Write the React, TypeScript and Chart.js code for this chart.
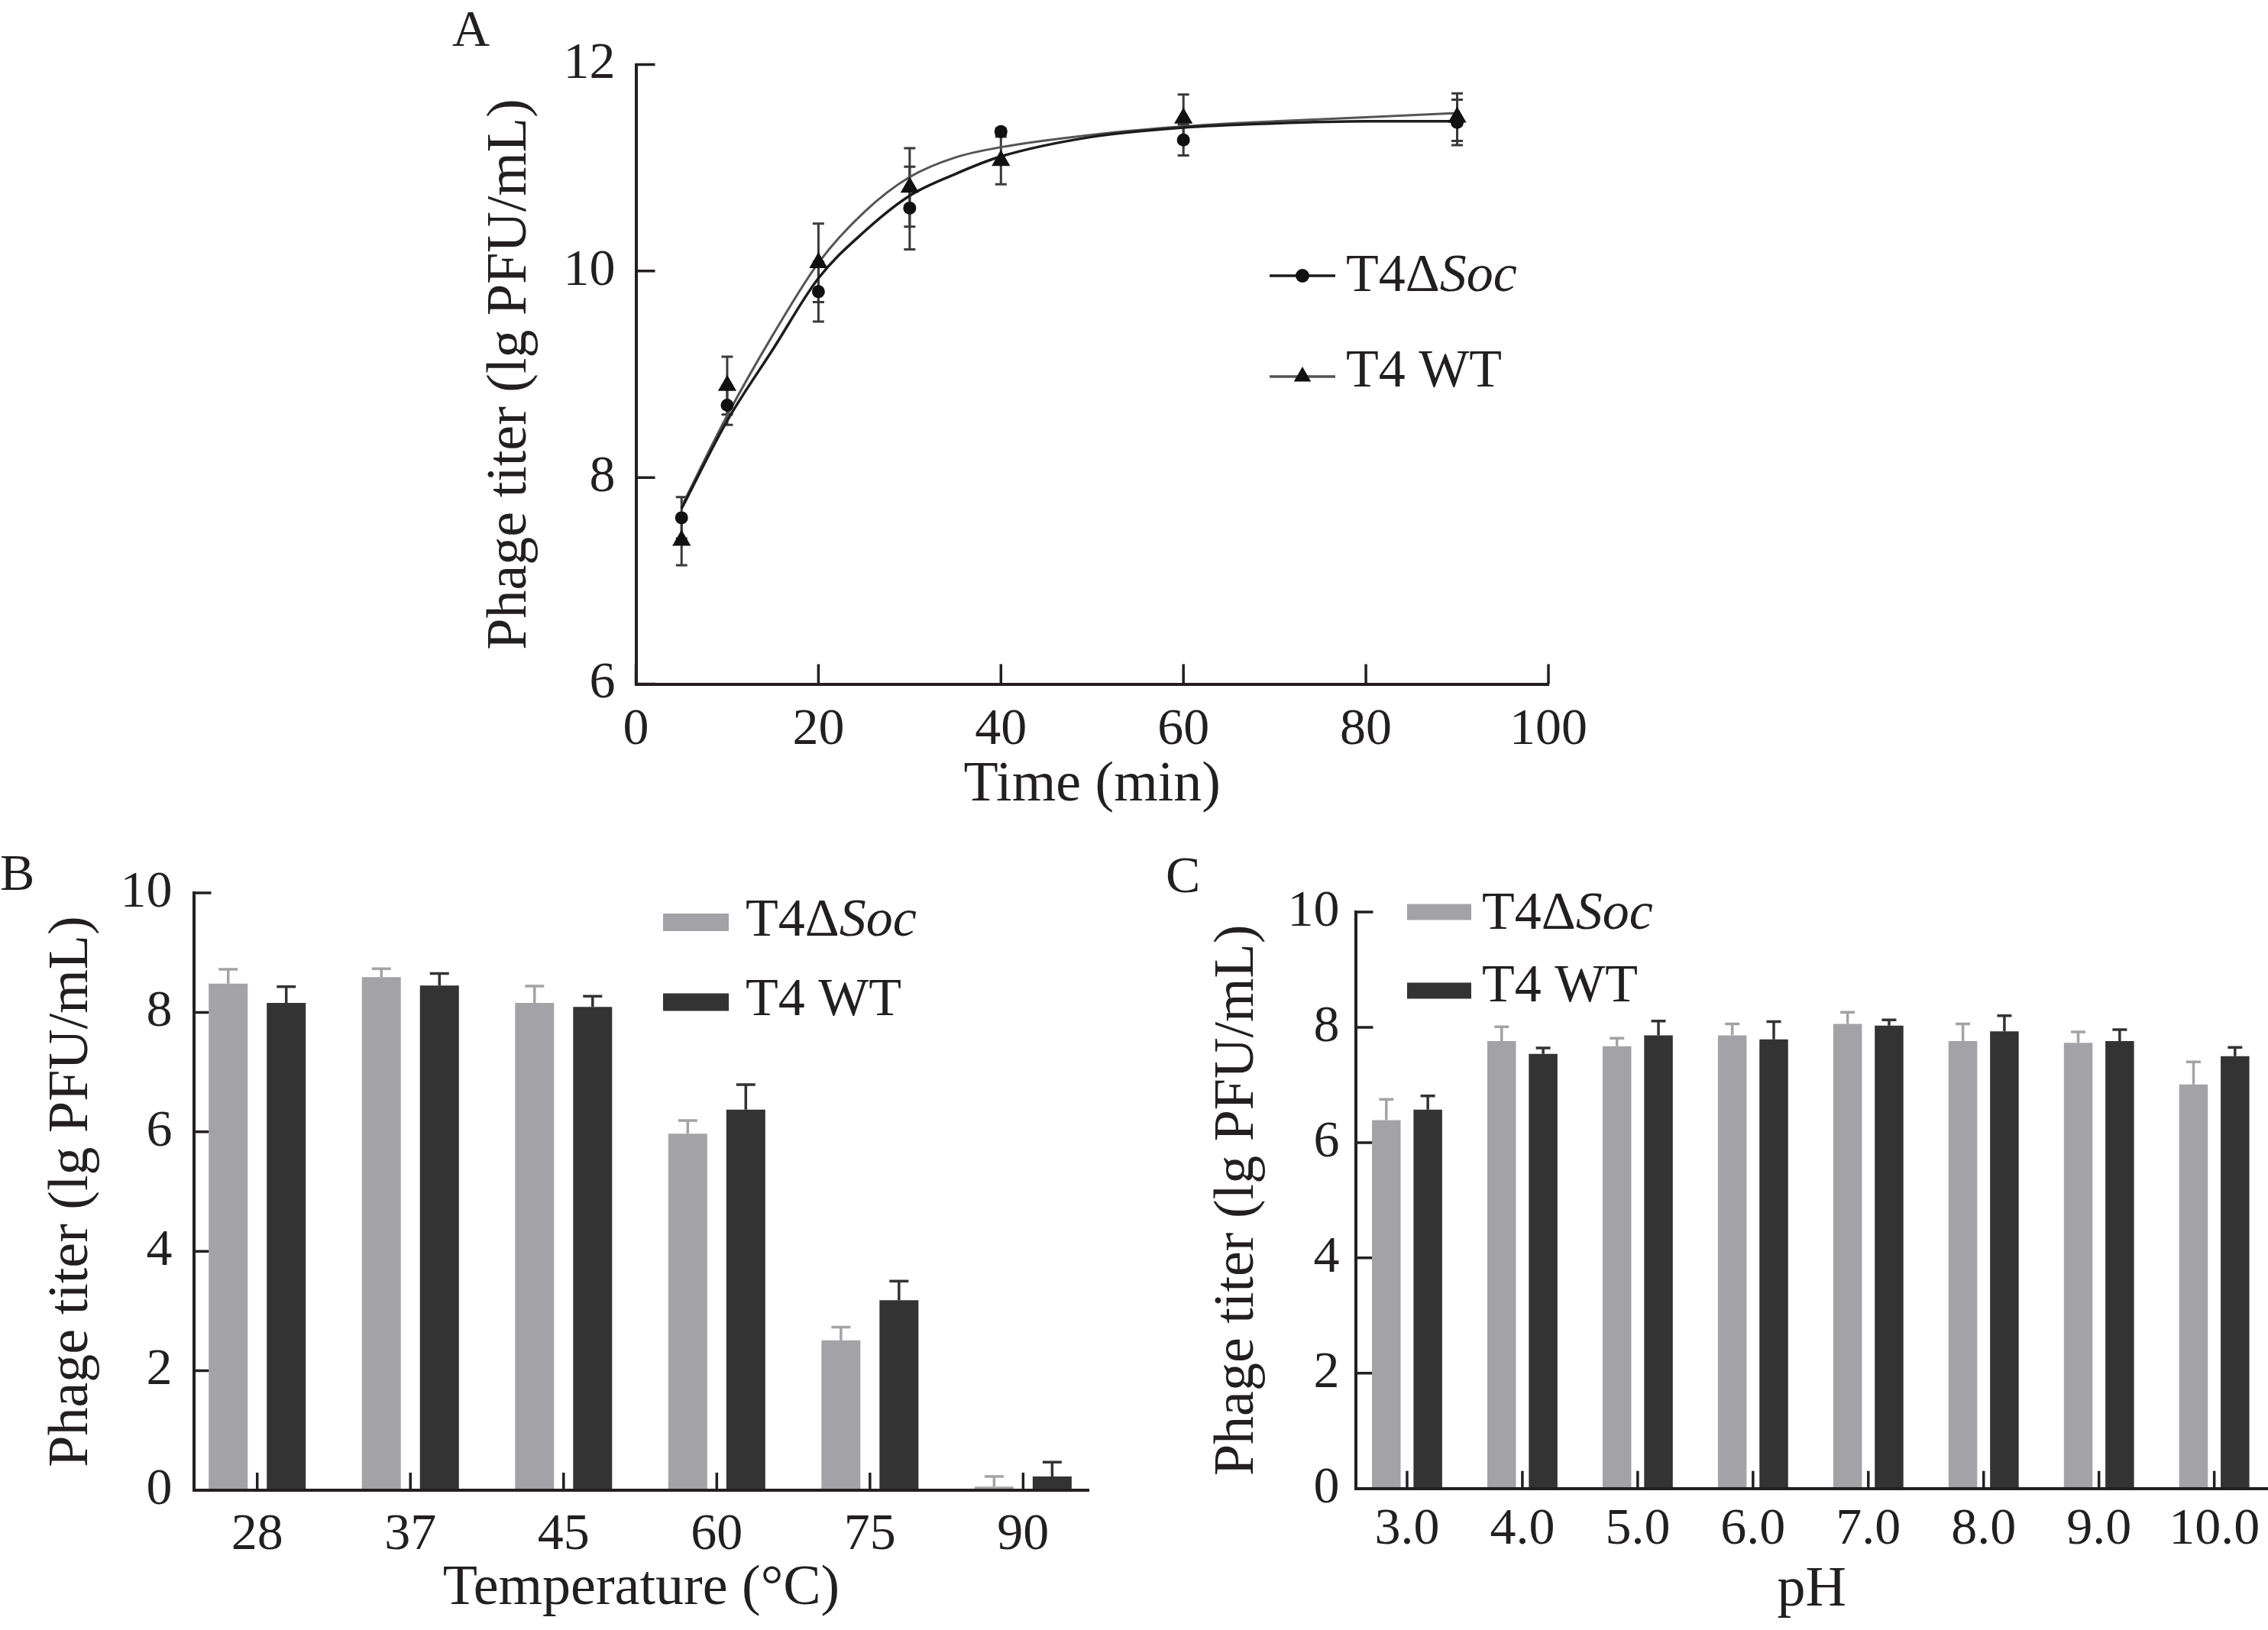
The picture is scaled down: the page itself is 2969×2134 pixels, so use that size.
import { useEffect, useRef } from "react"
import { Chart, registerables } from "chart.js"

Chart.register(...registerables)

const SERIF = "'Liberation Serif', 'Times New Roman', serif"
const INK = "#231f20"
const LIGHT_BAR = "#a3a3a7"
const DARK_BAR = "#333333"

Chart.defaults.font.family = SERIF
Chart.defaults.color = INK

const yTitle = "Phage titer (lg PFU/mL)"
// second part is set in italics
const socName = ["T4Δ", "Soc"]
const wtName = ["T4 WT", ""]

// A: titer over time, measured points and the fitted curves
const timeMin = [5, 10, 20, 30, 40, 60, 90]
const socTiter = [7.61, 8.7, 9.8, 10.61, 11.35, 11.27, 11.44]
const socSd = [0.2, 0.19, 0.29, 0.4, 0.03, 0.15, 0.22]
const wtTiter = [7.39, 8.89, 10.08, 10.81, 11.07, 11.48, 11.49]
const wtSd = [0.24, 0.28, 0.38, 0.38, 0.23, 0.23, 0.23]

const fitTime = [5, 10, 15, 20, 25, 30, 35, 40, 50, 60, 70, 80, 90]
const socFit = [7.7, 8.55, 9.24, 9.93, 10.38, 10.73, 10.94, 11.11, 11.3, 11.39, 11.43, 11.45, 11.45]
const wtFit = [7.72, 8.6, 9.38, 10.08, 10.57, 10.91, 11.1, 11.2, 11.32, 11.4, 11.45, 11.49, 11.53]

// B: temperature
const tempLabels = ["28", "37", "45", "60", "75", "90"]
const tempSoc = [8.48, 8.59, 8.16, 5.97, 2.51, 0.06]
const tempSocSd = [0.24, 0.14, 0.28, 0.22, 0.22, 0.17]
const tempWt = [8.16, 8.45, 8.09, 6.37, 3.18, 0.23]
const tempWtSd = [0.27, 0.2, 0.18, 0.42, 0.32, 0.24]

// C: pH
const phLabels = ["3.0", "4.0", "5.0", "6.0", "7.0", "8.0", "9.0", "10.0"]
const phSoc = [6.39, 7.76, 7.67, 7.86, 8.06, 7.76, 7.73, 7.01]
const phSocSd = [0.36, 0.25, 0.14, 0.2, 0.2, 0.3, 0.19, 0.39]
const phWt = [6.57, 7.54, 7.86, 7.79, 8.03, 7.93, 7.76, 7.5]
const phWtSd = [0.24, 0.1, 0.25, 0.31, 0.1, 0.27, 0.2, 0.15]

function paintErrors(chart: any, opts: any) {
  const { ctx } = chart
  const y = chart.scales.y
  ctx.save()
  ctx.lineWidth = opts.width
  chart.data.datasets.forEach((ds: any, i: number) => {
    if (!ds.errors) return
    const meta = chart.getDatasetMeta(i)
    ctx.strokeStyle = ds.errorColor
    meta.data.forEach((el: any, j: number) => {
      const v = ds.data[j].y
      const e = ds.errors[j]
      const top = y.getPixelForValue(v + e)
      const bottom = opts.both ? y.getPixelForValue(v - e) : el.y
      const half = opts.cap / 2
      ctx.beginPath()
      ctx.moveTo(el.x, bottom)
      ctx.lineTo(el.x, top)
      ctx.moveTo(el.x - half, top)
      ctx.lineTo(el.x + half, top)
      if (opts.both) {
        ctx.moveTo(el.x - half, bottom)
        ctx.lineTo(el.x + half, bottom)
      }
      ctx.stroke()
    })
  })
  ctx.restore()
}

const errorBars = {
  id: "errorBars",
  beforeDatasetsDraw(chart: any, _args: any, opts: any) {
    if (opts.under) paintErrors(chart, opts)
  },
  afterDatasetsDraw(chart: any, _args: any, opts: any) {
    if (!opts.under) paintErrors(chart, opts)
  },
}

// tick marks pointing into the plot
const innerTicks = {
  id: "innerTicks",
  beforeDatasetsDraw(chart: any, _args: any, opts: any) {
    const { ctx, chartArea: a, scales } = chart
    ctx.save()
    ctx.strokeStyle = INK
    ctx.lineWidth = 3.5
    ctx.beginPath()
    scales.x.ticks.forEach((t: any) => {
      const p = scales.x.getPixelForValue(t.value)
      ctx.moveTo(p, a.bottom)
      ctx.lineTo(p, a.bottom - opts.xLen)
    })
    scales.y.ticks.forEach((t: any) => {
      const p = scales.y.getPixelForValue(t.value)
      ctx.moveTo(a.left, p)
      ctx.lineTo(a.left + opts.yLen, p)
    })
    ctx.stroke()
    ctx.restore()
  },
}

const drawnLegend = {
  id: "drawnLegend",
  afterDraw(chart: any, _args: any, opts: any) {
    const { ctx } = chart
    ctx.save()
    opts.items.forEach((it: any) => {
      if (it.kind === "rect") {
        ctx.fillStyle = it.color
        ctx.fillRect(it.x, it.y - it.h / 2, it.w, it.h)
      } else {
        ctx.strokeStyle = it.color
        ctx.lineWidth = 3.5
        ctx.beginPath()
        ctx.moveTo(it.x, it.y)
        ctx.lineTo(it.x + it.w, it.y)
        ctx.stroke()
        ctx.fillStyle = "#111"
        const cx = it.x + it.w / 2
        ctx.beginPath()
        if (it.marker === "circle") {
          ctx.arc(cx, it.y, 9, 0, Math.PI * 2)
        } else {
          const r = 13
          ctx.moveTo(cx, it.y - r)
          ctx.lineTo(cx + r * 0.866, it.y + r / 2)
          ctx.lineTo(cx - r * 0.866, it.y + r / 2)
          ctx.closePath()
        }
        ctx.fill()
      }
      ctx.fillStyle = INK
      ctx.textBaseline = "middle"
      ctx.textAlign = "left"
      ctx.font = `${opts.size}px ${SERIF}`
      ctx.fillText(it.name[0], it.textX, it.textY)
      if (it.name[1]) {
        const w = ctx.measureText(it.name[0]).width
        ctx.font = `italic ${opts.size}px ${SERIF}`
        ctx.fillText(it.name[1], it.textX + w, it.textY)
      }
    })
    ctx.restore()
  },
}

function axis(extra: any) {
  return {
    border: { display: true, color: INK, width: 4, z: 1 },
    grid: { display: false, drawTicks: false },
    ...extra,
  }
}

function growthConfig(): any {
  return {
    type: "scatter",
    data: {
      datasets: [
        {
          data: timeMin.map((x, i) => ({ x, y: socTiter[i] })),
          errors: socSd,
          errorColor: "#3a3a3a",
          pointStyle: "circle",
          pointRadius: 8.5,
          pointBorderWidth: 0,
          backgroundColor: "#111",
          showLine: false,
        },
        {
          data: timeMin.map((x, i) => ({ x, y: wtTiter[i] })),
          errors: wtSd,
          errorColor: "#3a3a3a",
          pointStyle: "triangle",
          pointRadius: 14,
          pointBorderWidth: 0,
          backgroundColor: "#111",
          showLine: false,
        },
        {
          data: fitTime.map((x, i) => ({ x, y: socFit[i] })),
          showLine: true,
          borderColor: "#1c1c1c",
          borderWidth: 3.5,
          pointRadius: 0,
          cubicInterpolationMode: "monotone",
        },
        {
          data: fitTime.map((x, i) => ({ x, y: wtFit[i] })),
          showLine: true,
          borderColor: "#555555",
          borderWidth: 3,
          pointRadius: 0,
          cubicInterpolationMode: "monotone",
        },
      ],
    },
    options: {
      animation: false,
      responsive: false,
      devicePixelRatio: 1,
      events: [],
      layout: { padding: { left: 0, top: 84.5, right: 73, bottom: 0 } },
      plugins: {
        legend: { display: false },
        tooltip: { enabled: false },
        errorBars: { under: true, both: true, cap: 15, width: 3 },
        innerTicks: { xLen: 26, yLen: 25 },
        drawnLegend: {
          size: 70,
          items: [
            { kind: "line", marker: "circle", color: "#1c1c1c", x: 1102, y: 361, w: 86, textX: 1202, textY: 363, name: socName },
            { kind: "line", marker: "triangle", color: "#555555", x: 1102, y: 493, w: 86, textX: 1202, textY: 488, name: wtName },
          ],
        },
      },
      scales: {
        x: axis({
          type: "linear",
          min: 0,
          max: 100,
          ticks: { stepSize: 20, font: { size: 68 }, padding: 20, maxRotation: 0 },
          title: { display: true, text: "Time (min)", font: { size: 74 }, padding: { top: 0, bottom: 27 } },
          afterFit: (s: any) => { s.height = 204.5 },
        }),
        y: axis({
          type: "linear",
          min: 6,
          max: 12,
          ticks: { stepSize: 2, font: { size: 68 }, padding: 27 },
          title: { display: true, text: yTitle, font: { size: 74 }, padding: { top: 64, bottom: 0 } },
          afterFit: (s: any) => { s.width = 272.5 },
        }),
      },
    },
    plugins: [errorBars, innerTicks, drawnLegend],
  }
}

function barConfig(g: any): any {
  return {
    type: "bar",
    data: {
      datasets: [
        {
          data: g.soc.map((y: number, i: number) => ({ x: i, y })),
          errors: g.socSd,
          errorColor: LIGHT_BAR,
          backgroundColor: LIGHT_BAR,
          categoryPercentage: g.cp,
          barPercentage: g.bp,
        },
        {
          data: g.wt.map((y: number, i: number) => ({ x: i, y })),
          errors: g.wtSd,
          errorColor: DARK_BAR,
          backgroundColor: DARK_BAR,
          categoryPercentage: g.cp,
          barPercentage: g.bp,
        },
      ],
    },
    options: {
      animation: false,
      responsive: false,
      devicePixelRatio: 1,
      events: [],
      layout: { padding: { left: 0, top: g.top, right: g.right, bottom: 0 } },
      plugins: {
        legend: { display: false },
        tooltip: { enabled: false },
        errorBars: { under: false, both: false, cap: g.cap, width: 3.5 },
        innerTicks: { xLen: 23, yLen: 23 },
        drawnLegend: {
          size: 70,
          items: [
            { kind: "rect", color: LIGHT_BAR, x: g.legX, y: g.legY[0], w: g.legW, h: g.legH, textX: g.textX, textY: g.textY[0], name: socName },
            { kind: "rect", color: DARK_BAR, x: g.legX, y: g.legY[1], w: g.legW, h: g.legH, textX: g.textX, textY: g.textY[1], name: wtName },
          ],
        },
      },
      scales: {
        x: axis({
          type: "linear",
          offset: false,
          min: g.xMin,
          max: g.xMax,
          afterBuildTicks: (s: any) => {
            s.ticks = g.labels.map((_: string, i: number) => ({ value: i }))
          },
          ticks: {
            font: { size: 68 },
            padding: g.xPad,
            maxRotation: 0,
            autoSkip: false,
            callback: (v: number) => g.labels[Math.round(v)],
          },
          title: { display: true, text: g.xTitle, font: { size: 74 }, padding: { top: 0, bottom: g.xTitlePad } },
          afterFit: (s: any) => { s.height = g.xHeight },
        }),
        y: axis({
          type: "linear",
          min: 0,
          max: 10,
          ticks: { stepSize: 2, font: { size: 68 }, padding: g.yPad },
          title: { display: true, text: yTitle, font: { size: 74 }, padding: { top: g.yTitlePad, bottom: 0 } },
          afterFit: (s: any) => { s.width = g.yWidth },
        }),
      },
    },
    plugins: [errorBars, innerTicks, drawnLegend],
  }
}

function tempConfig() {
  return barConfig({
    labels: tempLabels, soc: tempSoc, socSd: tempSocSd, wt: tempWt, wtSd: tempWtSd,
    cp: 0.758, bp: 0.671, cap: 25,
    top: 69, right: 54.6, xMin: -0.415, xMax: 5.429,
    xHeight: 183, yWidth: 253.5, xPad: 18, yPad: 28, xTitlePad: 9, yTitlePad: 50,
    xTitle: "Temperature (°C)",
    legX: 868, legW: 86, legH: 23, legY: [107.5, 212], textX: 976, textY: [107, 211],
  })
}

function phConfig() {
  return barConfig({
    labels: phLabels, soc: phSoc, socSd: phSocSd, wt: phWt, wtSd: phWtSd,
    cp: 0.72, bp: 0.69, cap: 19,
    top: 94, right: 80, xMin: -0.447, xMax: 7.466,
    xHeight: 185.3, yWidth: 294.5, xPad: 14, yPad: 21, xTitlePad: 7, yTitlePad: 96,
    xTitle: "pH",
    legX: 362, legW: 84, legH: 21, legY: [94, 197], textX: 460, textY: [98, 193],
  })
}

function Panel({ left, top, width, height, build }: { left: number; top: number; width: number; height: number; build: () => any }) {
  const canvasRef = useRef<HTMLCanvasElement | null>(null)

  useEffect(() => {
    if (!canvasRef.current) return
    const chart = new Chart(canvasRef.current, build())
    return () => chart.destroy()
  }, [build])

  return (
    <canvas
      ref={canvasRef}
      width={width}
      height={height}
      style={{ position: "absolute", left, top, width, height }}
    />
  )
}

const letterStyle = {
  position: "absolute" as const,
  fontFamily: SERIF,
  fontSize: 68,
  lineHeight: 1,
  color: INK,
}

export default function App() {
  return (
    <div
      style={{
        position: "absolute",
        left: 0,
        top: 0,
        width: 2969,
        height: 2134,
        overflow: "hidden",
        background: "#fff",
      }}
    >
      <Panel left={560} top={0} width={1540} height={1100} build={growthConfig} />
      <Panel left={0} top={1100} width={1480} height={1034} build={tempConfig} />
      <Panel left={1480} top={1100} width={1569} height={1034} build={phConfig} />
      <div style={{ ...letterStyle, left: 592, top: 3 }}>A</div>
      <div style={{ ...letterStyle, left: 0, top: 1108 }}>B</div>
      <div style={{ ...letterStyle, left: 1526, top: 1111 }}>C</div>
    </div>
  )
}
